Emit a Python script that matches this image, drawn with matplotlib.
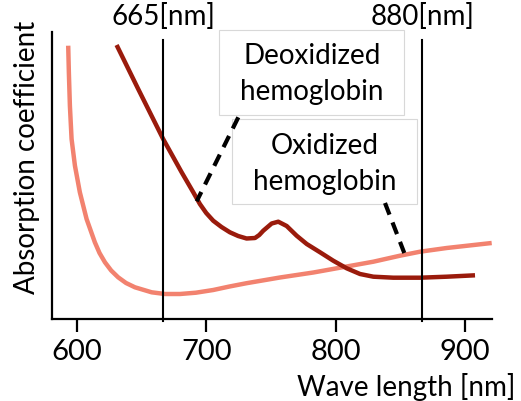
import matplotlib
matplotlib.use("Agg")
import matplotlib.pyplot as plt

# wavelength [nm] / absorption (arbitrary units)
oxy_wl = [593.3, 593.8, 594.6, 595.9, 598.5, 602.3, 607.5, 613.9, 617.5, 621.7,
          626.5, 631.9, 638, 644.9, 657.8, 668.1, 679.7, 692, 705.4, 718,
          731.2, 757, 782.8, 795.7, 808.6, 829.2, 849.8, 865.3, 885.9, 920.7]
oxy_abs = [273.3, 246.7, 213.3, 180, 153.3, 126.7, 100, 76.7, 66, 56.7,
           48.5, 41.7, 36, 31.7, 26.7, 25, 25, 26.3, 29, 32.5,
           35.8, 41.5, 46.5, 49.5, 52.5, 57.3, 63.3, 67.3, 71, 76]

deoxy_wl = [630.7, 647.4, 666.7, 681, 690, 695.1, 700, 705.4, 711.8, 718.3,
            724.7, 731.2, 737.7, 741, 744.1, 750.6, 755.7, 762.2, 769.9, 777.7,
            788, 798.2, 808.6, 818.9, 829.2, 844.6, 865.3, 885.9, 907.8]
deoxy_abs = [274, 230, 180, 146.7, 126.7, 115, 106, 98.3, 92, 86.7,
             83, 80.5, 81, 84, 88.3, 95.5, 97.3, 93, 83.3, 75,
             66.7, 58.3, 50.7, 45, 42.3, 41.3, 41.3, 42.3, 43.7]

marker_wl = [666.7, 867]
marker_labels = ["665[nm]", "880[nm]"]
xticks = [600, 700, 800, 900]

plt.rcParams["font.family"] = ["Lato", "DejaVu Sans"]
FS = 20

fig = plt.figure(figsize=(5.21, 4.02), dpi=100)
ax = fig.add_axes([52.3 / 521, 1 - 320 / 402, (491.7 - 52.3) / 521, 287 / 402])
ax.set_xlim(581, 920.7)
ax.set_ylim(0, 287)

for wl, ab, col in [(oxy_wl, oxy_abs, "#F2826F"), (deoxy_wl, deoxy_abs, "#9A1B0C")]:
    ax.plot(wl, ab, color=col, lw=3.2, solid_capstyle="butt",
            solid_joinstyle="round", zorder=3)

for wl, lab in zip(marker_wl, marker_labels):
    ax.plot([wl, wl], [-2, 279], color="black", lw=1.5, clip_on=False, zorder=4)
    ax.text(wl, 303, lab, ha="center", va="center", fontsize=FS)

ax.spines["top"].set_visible(False)
ax.spines["right"].set_visible(False)
for s in ("left", "bottom"):
    ax.spines[s].set_linewidth(1.6)
ax.set_yticks([])
ax.set_xticks(xticks)
ax.tick_params(axis="x", length=9, width=1.6, labelsize=FS + 1, pad=5)

ax.set_ylabel("Absorption coefficient", fontsize=FS, va="center")
ax.yaxis.set_label_coords(-0.057, 0.566)
ax.set_xlabel("Wave length [nm]", fontsize=FS, ha="right", va="center")
ax.xaxis.set_label_coords(1.053, -0.233)


def box(x0, y0, x1, y1, lines):
    # label box in figure pixel coords
    fig.patches.append(plt.Rectangle((x0 / 521, 1 - y1 / 402), (x1 - x0) / 521,
                                     (y1 - y0) / 402, transform=fig.transFigure,
                                     facecolor="white", edgecolor="#d8d8d8",
                                     lw=0.8, zorder=5))
    cx = (x0 + x1) / 2 / 521
    for ty, t in lines:
        fig.text(cx, 1 - ty / 402, t, ha="center", va="center", fontsize=FS, zorder=6)


box(219.3, 31, 404.3, 116, [(56, "Deoxidized"), (91.7, "hemoglobin")])
box(232.3, 120, 416.7, 205, [(145.7, "Oxidized"), (181.7, "hemoglobin")])

# dashed leaders
fig.add_artist(plt.Line2D([238.3 / 521, 196.7 / 521], [1 - 118.3 / 402, 1 - 202.3 / 402],
                          color="black", lw=3, ls=(0, (3, 2)), zorder=7))
fig.add_artist(plt.Line2D([385 / 521, 404.3 / 521], [1 - 204 / 402, 1 - 254 / 402],
                          color="black", lw=3, ls=(0, (3, 2)), zorder=7))

fig.savefig("out.png", dpi=100)
